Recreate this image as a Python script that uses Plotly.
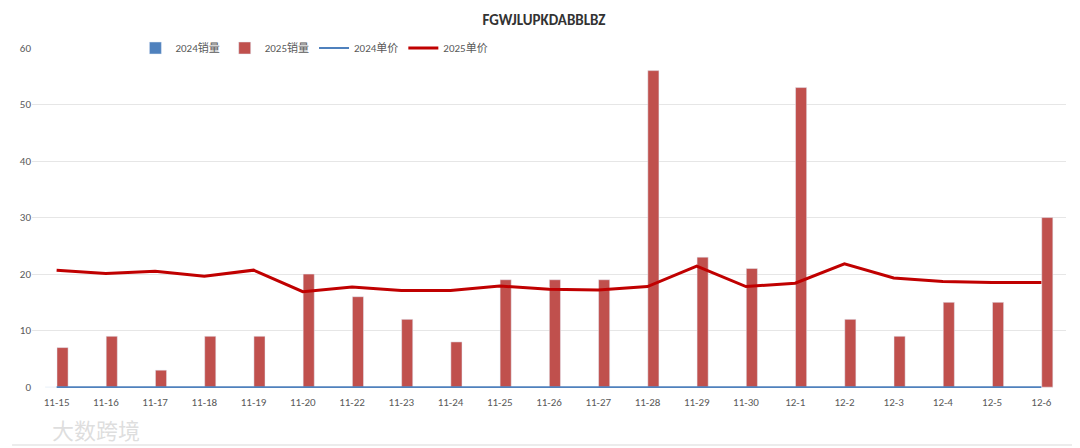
import plotly.graph_objects as go

title = "FGWJLUPKDABBLBZ"
categories = ["11-15", "11-16", "11-17", "11-18", "11-19", "11-20", "11-22", "11-23", "11-24",
              "11-25", "11-26", "11-27", "11-28", "11-29", "11-30", "12-1", "12-2", "12-3",
              "12-4", "12-5", "12-6"]
sales_2024 = [0] * 21
sales_2025 = [7, 9, 3, 9, 9, 20, 16, 12, 8, 19, 19, 19, 56, 23, 21, 53, 12, 9, 15, 15, 30]
price_2024 = [0] * 21
price_2025 = [20.7, 20.1, 20.5, 19.6, 20.7, 16.9, 17.7, 17.1, 17.1, 17.9, 17.3, 17.2, 17.8,
              21.4, 17.8, 18.4, 21.8, 19.3, 18.7, 18.5, 18.5]
y_ticks = [0, 10, 20, 30, 40, 50, 60]

FONT = "Calibri, Carlito, 'Liberation Sans', 'Noto Sans CJK SC', sans-serif"

# page body has an 8px margin: figure occupies 8..1080 x 8..448 of the window
PW, PH = 1038, 340  # plot area size in px
px = lambda ax: (ax - 28) / PW          # absolute window x -> paper x
py = lambda ay: (388 - ay) / PH         # absolute window y -> paper y

fig = go.Figure()
fig.add_trace(go.Bar(x=categories, y=sales_2024, name="2024销量", marker_color="#4F81BD"))
fig.add_trace(go.Bar(x=categories, y=sales_2025, name="2025销量", marker_color="#C0504D"))
fig.add_trace(go.Scatter(x=categories, y=price_2024, name="2024单价", mode="lines",
                         line=dict(color="#4F81BD", width=2)))
fig.add_trace(go.Scatter(x=categories, y=price_2025, name="2025单价", mode="lines",
                         line=dict(color="#C00000", width=3)))

fig.update_layout(
    width=1072, height=440,
    margin=dict(l=20, r=14, t=40, b=60),
    paper_bgcolor="white", plot_bgcolor="white",
    font=dict(family=FONT, size=11, color="#595959"),
    title=dict(text="<b>" + title + "</b>", x=0.5, xanchor="center", y=1 - 12 / 440,
               yanchor="middle", font=dict(size=15, color="#333333", family=FONT)),
    barmode="group", bargap=0.52, bargroupgap=0.06,
    legend=dict(orientation="h", x=0.10, xanchor="left", y=1.0, yanchor="middle",
                bgcolor="white", font=dict(size=11, color="#595959"),
                itemwidth=30, tracegroupgap=0),
    xaxis=dict(type="category", showgrid=False, showline=False, ticks="", tickangle=0,
               tickfont=dict(size=11, color="#595959"), range=[-0.5, 20.5],
               ticklabelstandoff=6),
    yaxis=dict(range=[-0.15, 60], tickvals=y_ticks, showgrid=True, gridcolor="#E6E6E6",
               gridwidth=1, zeroline=False, showline=False, ticks="",
               tickfont=dict(size=11, color="#595959")),
    shapes=[
        dict(type="line", xref="paper", yref="paper", x0=px(1077), x1=px(1077),
             y0=py(445), y1=py(8), line=dict(color="#D9D9D9", width=1)),
        dict(type="line", xref="paper", yref="paper", x0=px(8), x1=px(1077),
             y0=py(445), y1=py(445), line=dict(color="#D9D9D9", width=1)),
    ],
    annotations=[dict(text="大数跨境", xref="paper", yref="paper",
                      x=px(46), y=py(429), xanchor="left", yanchor="middle",
                      showarrow=False,
                      font=dict(size=22, color="rgba(200,200,200,0.6)",
                                family="'Noto Sans CJK SC', sans-serif"))],
)

fig.write_html("out.html")
